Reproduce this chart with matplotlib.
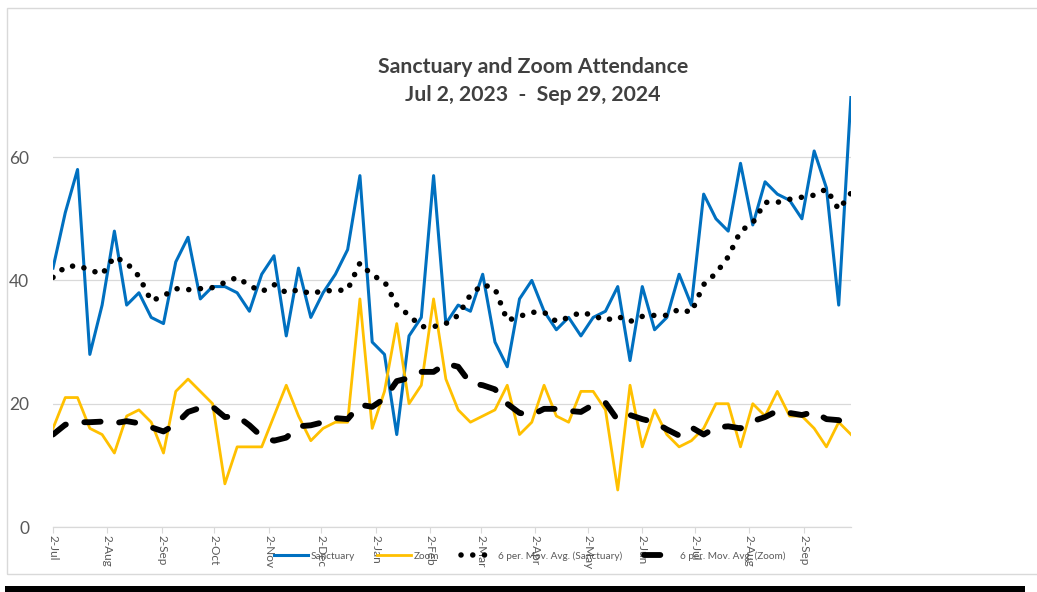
import pandas as pd
import matplotlib
matplotlib.use("Agg")
import matplotlib.pyplot as plt
from matplotlib.patches import Rectangle

plt.rcParams['font.family'] = ['Lato', 'DejaVu Sans']

# weekly Sundays, Jul 2 2023 .. Sep 29 2024
weeks = pd.date_range("2023-07-02", "2024-09-29", freq="7D")

sanctuary = [42, 51, 58, 28, 36, 48, 36, 38, 34, 33, 43, 47, 37, 39, 39, 38, 35, 41, 44, 31, 42, 34,
             38, 41, 45, 57, 30, 28, 15, 31, 34, 57, 33, 36, 35, 41, 30, 26, 37, 40, 35, 32, 34, 31,
             34, 35, 39, 27, 39, 32, 34, 41, 36, 54, 50, 48, 59, 49, 56, 54, 53, 50, 61, 55, 36, 70]
zoom = [16, 21, 21, 16, 15, 12, 18, 19, 17, 12, 22, 24, 22, 20, 7, 13, 13, 13, 18, 23, 18, 14,
        16, 17, 17, 37, 16, 22, 33, 20, 23, 37, 24, 19, 17, 18, 19, 23, 15, 17, 23, 18, 17, 22,
        22, 19, 6, 23, 13, 19, 15, 13, 14, 16, 20, 20, 13, 20, 18, 22, 18, 18, 16, 13, 17, 15]

# first five moving-average points depend on weeks before the chart window
sanct_ma_head = [40.5, 42.2, 42.4, 41.7, 41.0]
zoom_ma_head = [15.0, 16.6, 17.0, 17.0, 17.1]

month_ticks = pd.date_range("2023-07-01", "2024-09-01", freq="MS") + pd.Timedelta(days=1)
month_labels = [f"{d.day}-{d.strftime('%b')}" for d in month_ticks]

y_ticks = [0, 20, 40, 60]

df = pd.DataFrame({"Sanctuary": sanctuary, "Zoom": zoom}, index=weeks)
sanct_ma = df["Sanctuary"].rolling(6).mean()
zoom_ma = df["Zoom"].rolling(6).mean()
sanct_ma.iloc[:5] = sanct_ma_head
zoom_ma.iloc[:5] = zoom_ma_head

W, H = 1037, 592
fig = plt.figure(figsize=(W / 100, H / 100), dpi=100)
ax = fig.add_axes([53 / W, 1 - 527 / H, (851 - 53) / W, (527 - 95.5) / H])

ax.plot(df.index, df["Sanctuary"], color="#0070C0", lw=2.2, label="Sanctuary", zorder=3)
ax.plot(df.index, df["Zoom"], color="#FFC000", lw=2.0, label="Zoom", zorder=3)
ax.plot(df.index, sanct_ma, color="black", lw=4.0, linestyle=(0, (0.01, 2.1)),
        dash_capstyle="round", label="6 per. Mov. Avg. (Sanctuary)", zorder=4)
ax.plot(df.index, zoom_ma, color="black", lw=4.2, linestyle=(0, (2.8, 3.2)),
        dash_capstyle="round", label="6 per. Mov. Avg. (Zoom)", zorder=4)

ax.set_xlim(weeks[0], weeks[-1])
ax.set_ylim(0, 70)
ax.set_yticks(y_ticks)
ax.set_xticks(month_ticks)
ax.set_xticklabels(month_labels, rotation=270, fontsize=8.5, color="#595959")
ax.tick_params(axis="y", length=0, pad=17, labelsize=12.5, labelcolor="#595959")
ax.tick_params(axis="x", length=4, width=0.8, color="#D9D9D9", pad=2)
ax.grid(axis="y", color="#D9D9D9", lw=0.9)
ax.set_axisbelow(True)
for s in ["top", "right", "left"]:
    ax.spines[s].set_visible(False)
ax.spines["bottom"].set_color("#D9D9D9")
ax.spines["bottom"].set_linewidth(0.9)

fig.text(533 / W, 1 - 67 / H, "Sanctuary and Zoom Attendance", ha="center", va="center",
         fontsize=15.3, fontweight="bold", color="#404040")
fig.text(533 / W, 1 - 95 / H, "Jul 2, 2023  -  Sep 29, 2024", ha="center", va="center",
         fontsize=15.3, fontweight="bold", color="#404040")

leg = fig.legend(loc="center", bbox_to_anchor=(530 / W, 1 - 556 / H), ncol=4, frameon=False,
                 fontsize=7.2, handlelength=3.4, handletextpad=0.25, columnspacing=2.2)
for t in leg.get_texts():
    t.set_color("#595959")

# chart area border and bottom bar
fig.patches.append(Rectangle((7 / W, 1 - 574 / H), (W + 5 - 7) / W, (574 - 8) / H,
                             transform=fig.transFigure, fill=False, edgecolor="#D9D9D9", lw=1))
fig.patches.append(Rectangle((5 / W, 0), (1025 - 5) / W, 6 / H,
                             transform=fig.transFigure, color="black", lw=0))

fig.savefig("out.png", dpi=100)
